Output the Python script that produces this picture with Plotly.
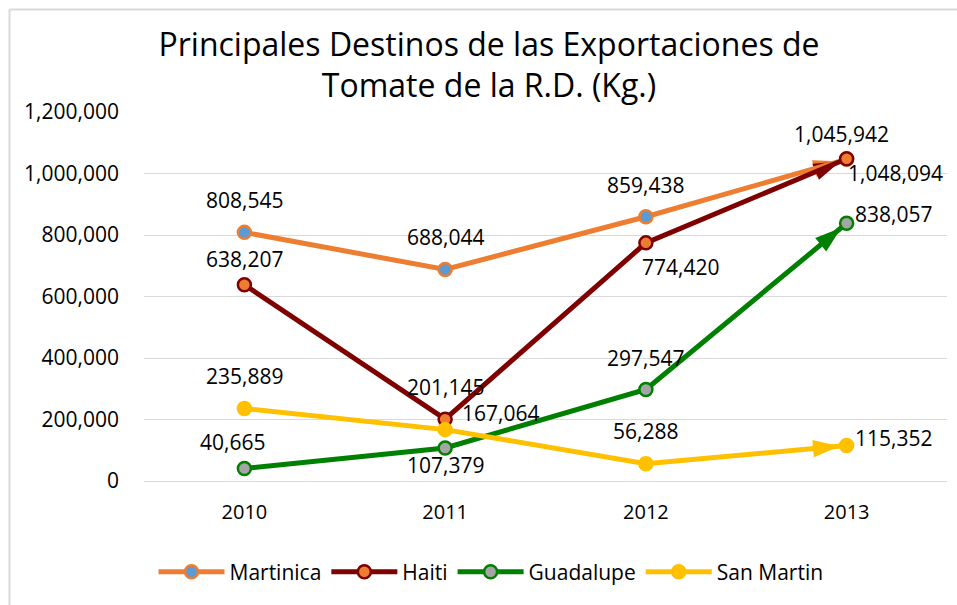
import plotly.graph_objects as go

years = ["2010", "2011", "2012", "2013"]
martinica = [808545, 688044, 859438, 1045942]
haiti = [638207, 201145, 774420, 1048094]
guadalupe = [40665, 107379, 297547, 838057]
san_martin = [235889, 167064, 56288, 115352]

series_names = ["Martinica", "Haiti", "Guadalupe", "San Martin"]
series_values = [martinica, haiti, guadalupe, san_martin]
y_ticks = [0, 200000, 400000, 600000, 800000, 1000000, 1200000]

styles = [
    dict(line="#ED7D31", fill="#5B9BD5"),
    dict(line="#7F0000", fill="#ED7D31"),
    dict(line="#008000", fill="#A5A5A5"),
    dict(line="#FFC000", fill="#FFC000"),
]
# label offsets (pixels) per series per point
offsets = [
    [(0, 32), (0, 32), (0, 32), (-5, 25)],
    [(0, 26), (0, 32), (35, -24), (49, -14)],
    [(-12, 27), (0, -17), (0, 32), (47, 9)],
    [(0, 32), (55, 17), (0, 33), (47, 8)],
]

FONT = "Open Sans"
fig = go.Figure()

# arrowheads at the end of each line
for name, vals, st in zip(series_names, series_values, styles):
    fig.add_trace(go.Scatter(
        x=years[-2:], y=vals[-2:], mode="markers", showlegend=False, hoverinfo="skip",
        marker=dict(symbol=["circle", "arrow"], size=[0, 28], angleref="previous",
                    standoff=[0, 7], color=st["line"], opacity=1, line=dict(width=0)),
    ))

for name, vals, st in zip(series_names, series_values, styles):
    fig.add_trace(go.Scatter(
        x=years, y=vals, name=name, mode="lines+markers",
        line=dict(color=st["line"], width=5),
        marker=dict(symbol="circle", size=13, color=st["fill"],
                    line=dict(color=st["line"], width=2.5)),
    ))

annotations = []
for vals, offs in zip(series_values, offsets):
    for i, (v, (dx, dy)) in enumerate(zip(vals, offs)):
        annotations.append(dict(
            x=i, y=v, xref="x", yref="y", text=f"{v:,}", showarrow=False,
            xshift=dx, yshift=dy, font=dict(family=FONT, size=21, color="#000000"),
        ))

fig.update_layout(
    width=957, height=605,
    margin=dict(l=144, r=10, t=112, b=124),
    paper_bgcolor="white", plot_bgcolor="white",
    title=dict(text="Principales Destinos de las Exportaciones de<br>Tomate de la R.D. (Kg.)",
               x=489 / 957, xref="container", xanchor="center", y=0.908, yanchor="top",
               font=dict(family=FONT, size=32, color="#000000")),
    font=dict(family=FONT, size=20, color="#000000"),
    xaxis=dict(type="category", categoryorder="array", categoryarray=years,
               range=[-0.5, 3.5], showgrid=False, showline=False,
               zeroline=False, ticks="", ticklabelstandoff=17,
               tickfont=dict(family=FONT, size=20, color="#000000")),
    yaxis=dict(range=[0, 1200000], tickvals=y_ticks, tickformat=",",
               showgrid=True, gridcolor="#D9D9D9", gridwidth=1.3, zeroline=True,
               zerolinecolor="#D9D9D9", zerolinewidth=1.3, showline=False,
               ticks="", ticklabelstandoff=24,
               tickfont=dict(family=FONT, size=21, color="#000000")),
    legend=dict(orientation="h", x=(491 - 144) / 803, xanchor="center", y=-0.247,
                yanchor="middle", font=dict(family=FONT, size=21, color="#000000"),
                itemwidth=66),
    annotations=annotations,
    shapes=[
        dict(type="line", xref="paper", yref="paper", x0=-0.1675, x1=-0.1675,
             y0=-0.34, y1=1.2778, line=dict(color="#D9D9D9", width=2)),
        dict(type="line", xref="paper", yref="paper", x0=-0.1675, x1=1.02,
             y0=1.2778, y1=1.2778, line=dict(color="#D9D9D9", width=2)),
    ],
)

fig.write_html("out.html", config={"displayModeBar": False},
               post_script="document.body.style.margin='0';")
